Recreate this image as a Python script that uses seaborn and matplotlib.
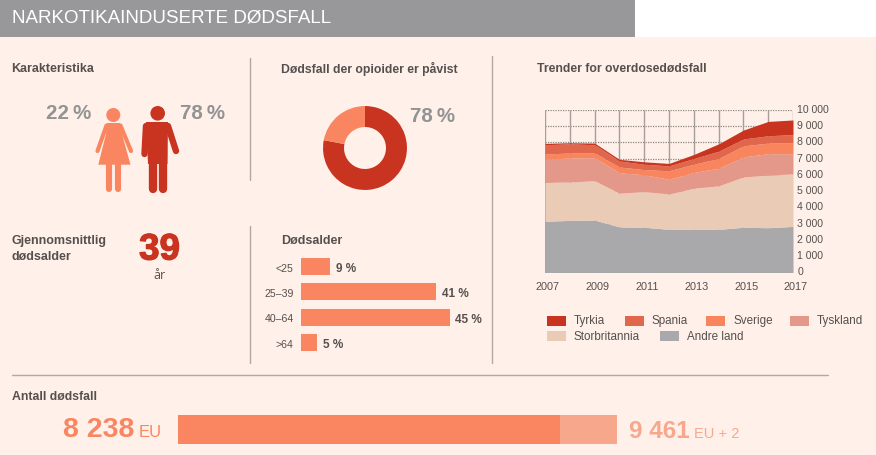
import matplotlib
matplotlib.use("Agg")
import matplotlib.pyplot as plt
import matplotlib.patheffects as pe
import matplotlib.transforms as mtrans
from matplotlib.patches import Rectangle, Circle, Polygon
import seaborn as sns
import pandas as pd

years = [2007, 2008, 2009, 2010, 2011, 2012, 2013, 2014, 2015, 2016, 2017]
andre_land = [3150, 3200, 3220, 2800, 2780, 2650, 2650, 2650, 2780, 2750, 2830]
storbritannia = [2380, 2360, 2420, 2070, 2190, 2170, 2530, 2670, 3090, 3230, 3230]
tyskland = [1420, 1470, 1410, 1260, 1030, 910, 970, 1080, 1230, 1320, 1240]
sverige = [330, 310, 300, 350, 320, 520, 500, 600, 680, 650, 680]
spania = [570, 560, 500, 370, 330, 300, 350, 450, 420, 450, 490]
tyrkia = [80, 70, 100, 100, 150, 150, 250, 450, 550, 880, 900]
series_names = ["Andre land", "Storbritannia", "Tyskland", "Sverige", "Spania", "Tyrkia"]
series_colors = ["#a9a9ab", "#e9cbb6", "#e4988a", "#f9855f", "#e0674c", "#c8341f"]

age_labels = ["<25", "25–39", "40–64", ">64"]
age_values = [9, 41, 45, 5]
gender_share = [22, 78]
opioid_share = [78, 22]
deaths_eu = 8238
deaths_eu2 = 9461

BG = "#fff0ea"
DARK = "#c8341f"
SALMON = "#f98660"
LIGHT = "#f7a88c"
GREY = "#939393"
TXT = "#55504e"
LINE = "#b3a8a4"

sns.set_theme(style="white", rc={"figure.facecolor": BG, "axes.facecolor": "none"})
plt.rcParams["font.family"] = ["Liberation Sans", "DejaVu Sans"]

W, H = 876, 456
fig = plt.figure(figsize=(W / 100, H / 100), dpi=100, facecolor=BG)


def axes_px(x0, y0, x1, y1, **kw):
    return fig.add_axes([x0 / W, 1 - y1 / H, (x1 - x0) / W, (y1 - y0) / H], **kw)


ov = axes_px(0, 0, W, H)
ov.set_xlim(0, W)
ov.set_ylim(H, 0)
ov.axis("off")


def T(x, y, s, size=8, color=TXT, weight="normal", ha="left", va="center", **kw):
    return ov.text(x, y, s, fontsize=size, color=color, fontweight=weight, ha=ha, va=va, **kw)


def limb(pts, color, lw):
    xs, ys = zip(*pts)
    ov.plot(xs, ys, color=color, lw=lw, solid_capstyle="round", solid_joinstyle="round")


# header
ov.add_patch(Rectangle((635, 0), 241, 38, fc="white", ec="none"))
ov.add_patch(Rectangle((0, 0), 635, 38, fc="#98989a", ec="none"))
T(12, 18, "NARKOTIKAINDUSERTE DØDSFALL", size=13.5, color="white")

# separators
for x, y0, y1 in [(250, 59, 181), (250, 227, 364), (492, 57, 364)]:
    ov.plot([x, x], [y0, y1], color=LINE, lw=1)
ov.plot([12, 828], [376, 376], color=LINE, lw=1)

# section titles
T(11.5, 68.5, "Karakteristika", size=9, weight="bold")
T(281, 68.5, "Dødsfall der opioider er påvist", size=8.8, weight="bold")
T(537, 68.5, "Trender for overdosedødsfall", size=8.8, weight="bold")
T(12, 241, "Gjennomsnittlig", size=9, weight="bold")
T(12, 257, "dødsalder", size=9, weight="bold")
T(281, 241.5, "Dødsalder", size=9, weight="bold")
T(12, 397.5, "Antall dødsfall", size=8.8, weight="bold")

# gender figures
T(91, 114, f"{gender_share[0]}\u2009%", size=14.8, color=GREY, weight="bold", ha="right")
T(180, 114, f"{gender_share[1]}\u2009%", size=14.8, color=GREY, weight="bold")
ov.add_patch(Circle((113.3, 116), 7, fc=SALMON, ec="none"))
ov.add_patch(Polygon([(107, 124), (120, 124), (122, 135), (130.5, 165.7), (98.3, 165.7), (106, 135)],
                     closed=True, fc=SALMON, ec="none"))
limb([(106.5, 126.5), (97.5, 152)], SALMON, 3)
limb([(120.5, 126.5), (131, 152)], SALMON, 3)
limb([(109.4, 162), (109.4, 190)], SALMON, 4.4)
limb([(118.4, 162), (118.4, 190)], SALMON, 4.4)
ov.add_patch(Circle((157.7, 114.3), 7.3, fc=DARK, ec="none"))
ov.add_patch(Polygon([(146, 123), (168, 123), (167.5, 165), (148, 165)], closed=True, fc=DARK, ec="none"))
limb([(146, 127), (144.5, 155)], DARK, 4.6)
limb([(168, 127), (176, 152)], DARK, 4.6)
limb([(152.8, 150), (152.8, 190)], DARK, 6)
limb([(163, 150), (163, 190)], DARK, 6)

# average age
big = T(159.5, 251, "39", size=26.5, color=DARK, weight="bold", ha="center")
big.set_path_effects([pe.withStroke(linewidth=0.9, foreground=DARK)])
T(159, 276, "år", size=9, ha="center", fontfamily="Open Sans")

# donut
ax_d = axes_px(318, 102, 412, 196)
ax_d.pie(opioid_share, colors=[DARK, SALMON], startangle=90, counterclock=False, radius=1,
         wedgeprops=dict(width=0.5, edgecolor="none"))
ax_d.set_xlim(-1.12, 1.12)
ax_d.set_ylim(-1.12, 1.12)
T(410, 117, f"{opioid_share[0]}\u2009%", size=14.8, color=GREY, weight="bold")

# age bars
ax_b = axes_px(300.7, 255, 466.2, 356.2)
age_df = pd.DataFrame({"age": age_labels, "value": age_values})
sns.barplot(data=age_df, y="age", x="value", color=SALMON, saturation=1, width=0.67, linewidth=0, ax=ax_b)
ax_b.set_xlim(0, 50)
ax_b.set_xlabel("")
ax_b.set_ylabel("")
ax_b.set_xticks([])
ax_b.tick_params(axis="y", length=0, pad=5, labelsize=7.6, labelcolor=TXT)
sns.despine(ax=ax_b, left=True, bottom=True)
for i, v in enumerate(age_values):
    ax_b.text(v + 1.6, i + 0.05, f"{v} %", fontsize=8.5, fontweight="bold", color=TXT, va="center")

# stacked area
ax = axes_px(545, 110.7, 793, 273.5)
stack_values = [andre_land, storbritannia, tyskland, sverige, spania, tyrkia]
ax.set_axisbelow(True)
for y in range(1000, 11000, 1000):
    ax.axhline(y, color="#8a8583", lw=0.9, ls=(0, (1, 1)), zorder=1)
ax.vlines(years, 0, 10000, color="#a59e9b", lw=1, zorder=1)
ax.stackplot(years, stack_values, colors=series_colors, labels=series_names, zorder=2, lw=0)
ax.set_xlim(2007, 2017)
ax.set_ylim(0, 10000)
ax.set_xticks(years[::2])
ax.set_yticks(range(0, 11000, 1000))
ax.set_yticklabels([f"{v:,}".replace(",", " ") for v in range(0, 11000, 1000)])
ax.yaxis.tick_right()
ax.tick_params(axis="y", length=0, labelsize=7.6, labelcolor=TXT, pad=3)
ax.tick_params(axis="x", length=0, labelsize=7.8, labelcolor=TXT, pad=6)
ax.grid(False)
sns.despine(ax=ax, left=True, bottom=True, right=True, top=True)
nudge_x = mtrans.ScaledTranslation(3 / 100, 0, fig.dpi_scale_trans)
for lab in ax.get_xticklabels():
    lab.set_transform(lab.get_transform() + nudge_x)
nudge_y = mtrans.ScaledTranslation(0, 1 / 100, fig.dpi_scale_trans)
for lab in ax.get_yticklabels():
    lab.set_verticalalignment("center")
    lab.set_transform(lab.get_transform() + nudge_y)

# legend
legend_items = [("Tyrkia", 5, 547, 321.5), ("Spania", 4, 625, 321.5), ("Sverige", 3, 706, 321.5),
                ("Tyskland", 2, 790, 321.5), ("Storbritannia", 1, 547, 337), ("Andre land", 0, 660, 337)]
for name, idx, x, y in legend_items:
    ov.add_patch(Rectangle((x, y - 5), 19, 10, fc=series_colors[idx], ec="none"))
    T(x + 27, y, name, size=8.4)

# total bar
ax_t = axes_px(178, 416, 617, 445)
sns.barplot(x=[deaths_eu2], y=[0], orient="h", color=LIGHT, saturation=1, width=1, linewidth=0, ax=ax_t)
sns.barplot(x=[deaths_eu], y=[0], orient="h", color=SALMON, saturation=1, width=1, linewidth=0, ax=ax_t)
ax_t.set_xlim(0, deaths_eu2)
ax_t.set_ylim(0.5, -0.5)
ax_t.axis("off")
T(63, 430, "8 238", size=20.5, color=SALMON, weight="bold")
T(139, 432.5, "EU", size=12, color=SALMON)
T(629, 432, "9 461", size=17.5, color=LIGHT, weight="bold")
T(694, 434, "EU + 2", size=10.5, color=LIGHT)

fig.savefig("out.png", dpi=100, facecolor=BG)
